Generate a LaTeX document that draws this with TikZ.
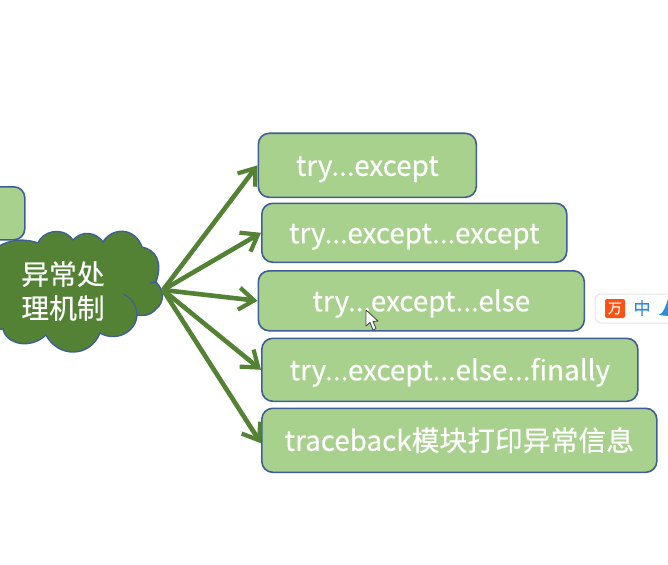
\documentclass[tikz,border=0pt]{standalone}
\usepackage{fontspec}
\setmainfont[FakeBold=0.35]{Noto Sans CJK SC}
\usetikzlibrary{arrows.meta}
\definecolor{boxfill}{HTML}{A9D18E}
\definecolor{boxline}{HTML}{3F5F94}
\definecolor{leaf}{HTML}{548235}
\definecolor{imeblue}{HTML}{2E8BD8}
\definecolor{imeorange}{HTML}{FB5314}
\newcommand{\lowered}[1]{\raisebox{-10.5pt}[0pt][0pt]{#1}}
\tikzset{
 branch/.style={draw=boxline,line width=1.6pt,fill=boxfill,rounded corners=11pt,anchor=north west,inner sep=0pt,text=white,font=\fontsize{27.8}{32}\selectfont,align=center},
 link/.style={draw=leaf,line width=4.6pt,-{Straight Barb[length=15pt,width=22pt,line width=4.2pt]}},
}
\begin{document}
\begin{tikzpicture}[x=1pt,y=-1pt]
\useasboundingbox (0,0) rectangle (668,564);
\clip (0,0) rectangle (668,564);
\fill[white] (0,0) rectangle (668,564);
% partial box at left edge
\node[branch,minimum width=59pt,minimum height=53pt] (left) at (-35,186) {};
% boxes
\node[branch,minimum width=218pt,minimum height=64pt] (b1) at (257.5,132.5) {\lowered{try...except}};
\node[branch,minimum width=305pt,minimum height=59pt] (b2) at (261,202.5) {\lowered{try...except...except}};
\node[branch,minimum width=326pt,minimum height=60pt] (b3) at (257.5,270) {\lowered{try...except...else}};
\node[branch,minimum width=376pt,minimum height=63pt] (b4) at (261,337.5) {\lowered{try...except...else...finally}};
\node[branch,minimum width=395pt,minimum height=64pt] (b5) at (261,407.5) {\lowered{traceback模块打印异常信息}};
% cloud
\draw[draw=boxline,line width=1.4pt,fill=leaf]
 (-8,252) .. controls (0,243) and (18,236) .. (38,243)
 .. controls (42,232) and (62,225) .. (73,240)
 .. controls (82,230) and (96,232) .. (103,242)
 .. controls (112,227) and (135,227) .. (142,247)
 .. controls (156,250) and (163,262) .. (156,282)
 .. controls (164,290) and (165,302) .. (156,309)
 .. controls (150,316) and (143,316) .. (137,315)
 .. controls (136,333) and (115,342) .. (100,333)
 .. controls (90,358) and (58,358) .. (46,335)
 .. controls (30,350) and (6,344) .. (3,329)
 .. controls (-4,330) and (-10,330) .. (-14,326) -- cycle;
\draw[draw=boxline,line width=1.2pt] (123,294) .. controls (132,298) and (137,306) .. (137,315);
\draw[draw=boxline,line width=1.2pt] (150,283) -- (156,282);
\coordinate (hub) at (163,290);
\node[text=white,font=\fontsize{27.8}{34}\selectfont,align=center,inner sep=0pt] (cloudtext) at (63,291) {异常处\\理机制};
% connectors
\draw[link] (hub) -- (b1.west);
\draw[link] (hub) -- (b2.west);
\draw[link] (hub) -- (b3.west);
\draw[link] (hub) -- (b4.west);
\draw[link] (hub) -- ([yshift=-3pt]b5.west);
% input-method toolbar
\draw[draw=black!10,line width=1pt,fill=white,rounded corners=6pt] (595,294) rectangle (700,323);
\fill[imeorange,rounded corners=2pt] (605,299) rectangle (625,318);
\node[text=white,font=\fontsize{14}{14}\selectfont,inner sep=0pt] (imeicon) at (615,308.5) {万};
\node[text=imeblue,font=\fontsize{17}{17}\selectfont,inner sep=0pt] (imecn) at (642,308) {中};
\fill[imeblue] (659,315) .. controls (664,313) and (666,305) .. (668,299) -- (668,316) -- cycle;
% mouse cursor
\draw[fill=white,draw=black!70,line width=.9pt,line join=round] (366,310) -- (366,326) -- (370,322.5) -- (373,330) -- (376,328.5) -- (373,321.5) -- (378,321) -- cycle;
\end{tikzpicture}
\end{document}
